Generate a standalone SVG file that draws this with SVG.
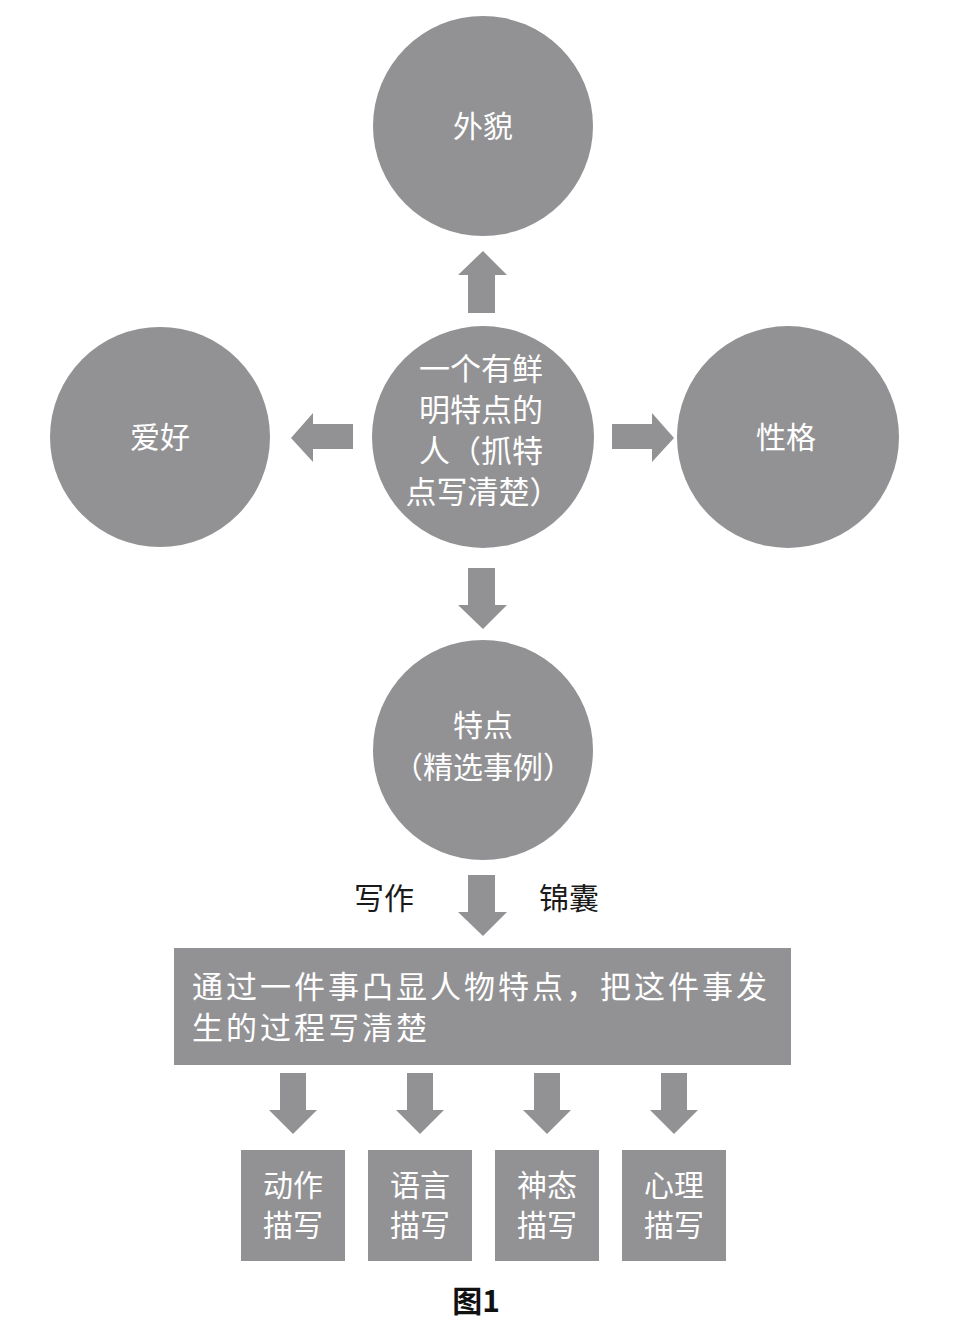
<svg xmlns="http://www.w3.org/2000/svg" width="979" height="1326" viewBox="0 0 979 1326">
<style>
.n{fill:#929295}
.a{fill:#929295}
.w{fill:#ffffff;font-family:"Noto Sans CJK SC","Liberation Serif",serif;text-anchor:middle}
.b{fill:#1a1a1a;font-family:"Noto Sans CJK SC","Liberation Serif",serif;text-anchor:middle}
</style>
<rect width="979" height="1326" fill="#ffffff"/>
<g id="connectors">
<polygon class="a" points="468,313 468,275 458,275 483,251 507,275 495,275 495,313"/>
<polygon class="a" points="353,424 313,424 313,413 291,438 313,462 313,449 353,449"/>
<polygon class="a" points="612,424 652,424 652,413 674,438 652,462 652,449 612,449"/>
<polygon class="a" points="468,568 468,605 458,605 483,629 507,605 495,605 495,568"/>
<polygon class="a" points="468,875 468,912 458,912 483,936 507,912 495,912 495,875"/>
<polygon class="a" points="280,1073 280,1110 269,1110 293,1134 317,1110 306,1110 306,1073"/>
<polygon class="a" points="407,1073 407,1110 396,1110 420,1134 444,1110 433,1110 433,1073"/>
<polygon class="a" points="534,1073 534,1110 523,1110 547,1134 571,1110 560,1110 560,1073"/>
<polygon class="a" points="661,1073 661,1110 650,1110 674,1134 698,1110 687,1110 687,1073"/>
</g>
<g id="node-waimao">
<circle class="n" cx="483" cy="126" r="110"/>
<text class="w" x="483" y="137" font-size="30">外貌</text>
</g>
<g id="node-center">
<circle class="n" cx="483" cy="437" r="111"/>
<text class="w" font-size="31"><tspan x="481" y="380">一个有鲜</tspan><tspan x="481" y="421">明特点的</tspan><tspan x="481" y="462">人（抓特</tspan><tspan x="483" y="503">点写清楚）</tspan></text>
</g>
<g id="node-aihao">
<circle class="n" cx="160" cy="437" r="110"/>
<text class="w" x="160" y="448" font-size="30">爱好</text>
</g>
<g id="node-xingge">
<circle class="n" cx="788" cy="437" r="111"/>
<text class="w" x="786" y="448" font-size="30">性格</text>
</g>
<g id="node-tedian">
<circle class="n" cx="483" cy="750" r="110"/>
<text class="w" font-size="30"><tspan x="483" y="736">特点</tspan><tspan x="483" y="778">（精选事例）</tspan></text>
</g>
<g id="label-xiezuo">
<text class="b" x="384" y="909" font-size="30">写作</text>
<text class="b" x="569" y="909" font-size="30">锦囊</text>
</g>
<g id="node-main">
<rect class="n" x="174" y="948" width="617" height="117"/>
<text fill="#ffffff" font-family="Noto Sans CJK SC, Liberation Serif, serif" font-size="31" letter-spacing="3"><tspan x="192" y="998">通过一件事凸显人物特点，把这件事发</tspan><tspan x="192" y="1039">生的过程写清楚</tspan></text>
</g>
<g id="node-dongzuo">
<rect class="n" x="241" y="1150" width="104" height="111"/>
<text class="w" font-size="30"><tspan x="293" y="1196">动作</tspan><tspan x="293" y="1236">描写</tspan></text>
</g>
<g id="node-yuyan">
<rect class="n" x="368" y="1150" width="104" height="111"/>
<text class="w" font-size="30"><tspan x="420" y="1196">语言</tspan><tspan x="420" y="1236">描写</tspan></text>
</g>
<g id="node-shentai">
<rect class="n" x="495" y="1150" width="104" height="111"/>
<text class="w" font-size="30"><tspan x="547" y="1196">神态</tspan><tspan x="547" y="1236">描写</tspan></text>
</g>
<g id="node-xinli">
<rect class="n" x="622" y="1150" width="104" height="111"/>
<text class="w" font-size="30"><tspan x="674" y="1196">心理</tspan><tspan x="674" y="1236">描写</tspan></text>
</g>
<g id="caption">
<text x="476" y="1312" font-size="30" font-weight="bold" font-family="Noto Sans CJK SC, Liberation Sans, sans-serif" text-anchor="middle" fill="#111111">图1</text>
</g>
</svg>
